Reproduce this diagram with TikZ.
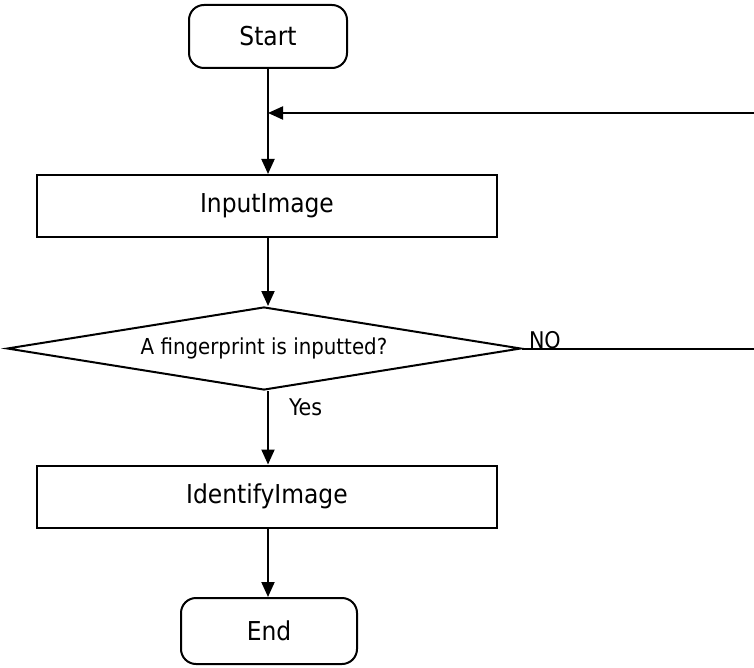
\documentclass[tikz,border=0pt]{standalone}
\usepackage{fontspec}
\setmainfont{DejaVu Sans Condensed}
\usetikzlibrary{shapes.geometric,arrows.meta}
\begin{document}
\begin{tikzpicture}[x=1pt,y=-1pt,
  line width=2pt,
  terminal/.style={draw,rounded corners=15pt,inner sep=0pt,font=\fontsize{26}{30}\selectfont},
  procbox/.style={draw,inner sep=0pt,minimum width=460pt,minimum height=62pt,font=\fontsize{26}{30}\selectfont},
  decision/.style={draw,diamond,aspect=6,inner sep=0pt,minimum width=514pt,minimum height=83pt,font=\fontsize{22}{26}\selectfont},
  lbl/.style={font=\fontsize{23}{26}\selectfont,inner sep=0pt},
  flow/.style={-{Triangle[length=15pt,width=13pt]}}]
\useasboundingbox[fill=white] (0,0) rectangle (754,668);
\node[terminal,minimum width=158pt,minimum height=63pt] (start) at (268,36.5) {Start};
\node[procbox] (input) at (267,206) {InputImage};
\node[decision] (dec) at (264,348.5) {A fingerprint is inputted?};
\node[procbox] (ident) at (267,496.5) {IdentifyImage};
\node[terminal,minimum width=176pt,minimum height=66pt] (end) at (269,631) {End};
\coordinate (fb) at (268,113);
\draw (start.south -| fb) -- (fb);
\draw[flow] (fb) -- (fb |- input.north);
\draw[flow] (input.south -| fb) -- (fb |- dec.north);
\draw[flow] (dec.south -| fb) -- (fb |- ident.north);
\draw[flow] (ident.south -| fb) -- (fb |- end.north);
\draw[flow] (dec.east) -- ++(300,0) |- (fb);
\node[lbl,anchor=south west] (no) at ([xshift=6pt,yshift=-1pt]dec.east) {NO};
\node[lbl,anchor=north west] (yes) at (288,398) {Yes};
\end{tikzpicture}
\end{document}
